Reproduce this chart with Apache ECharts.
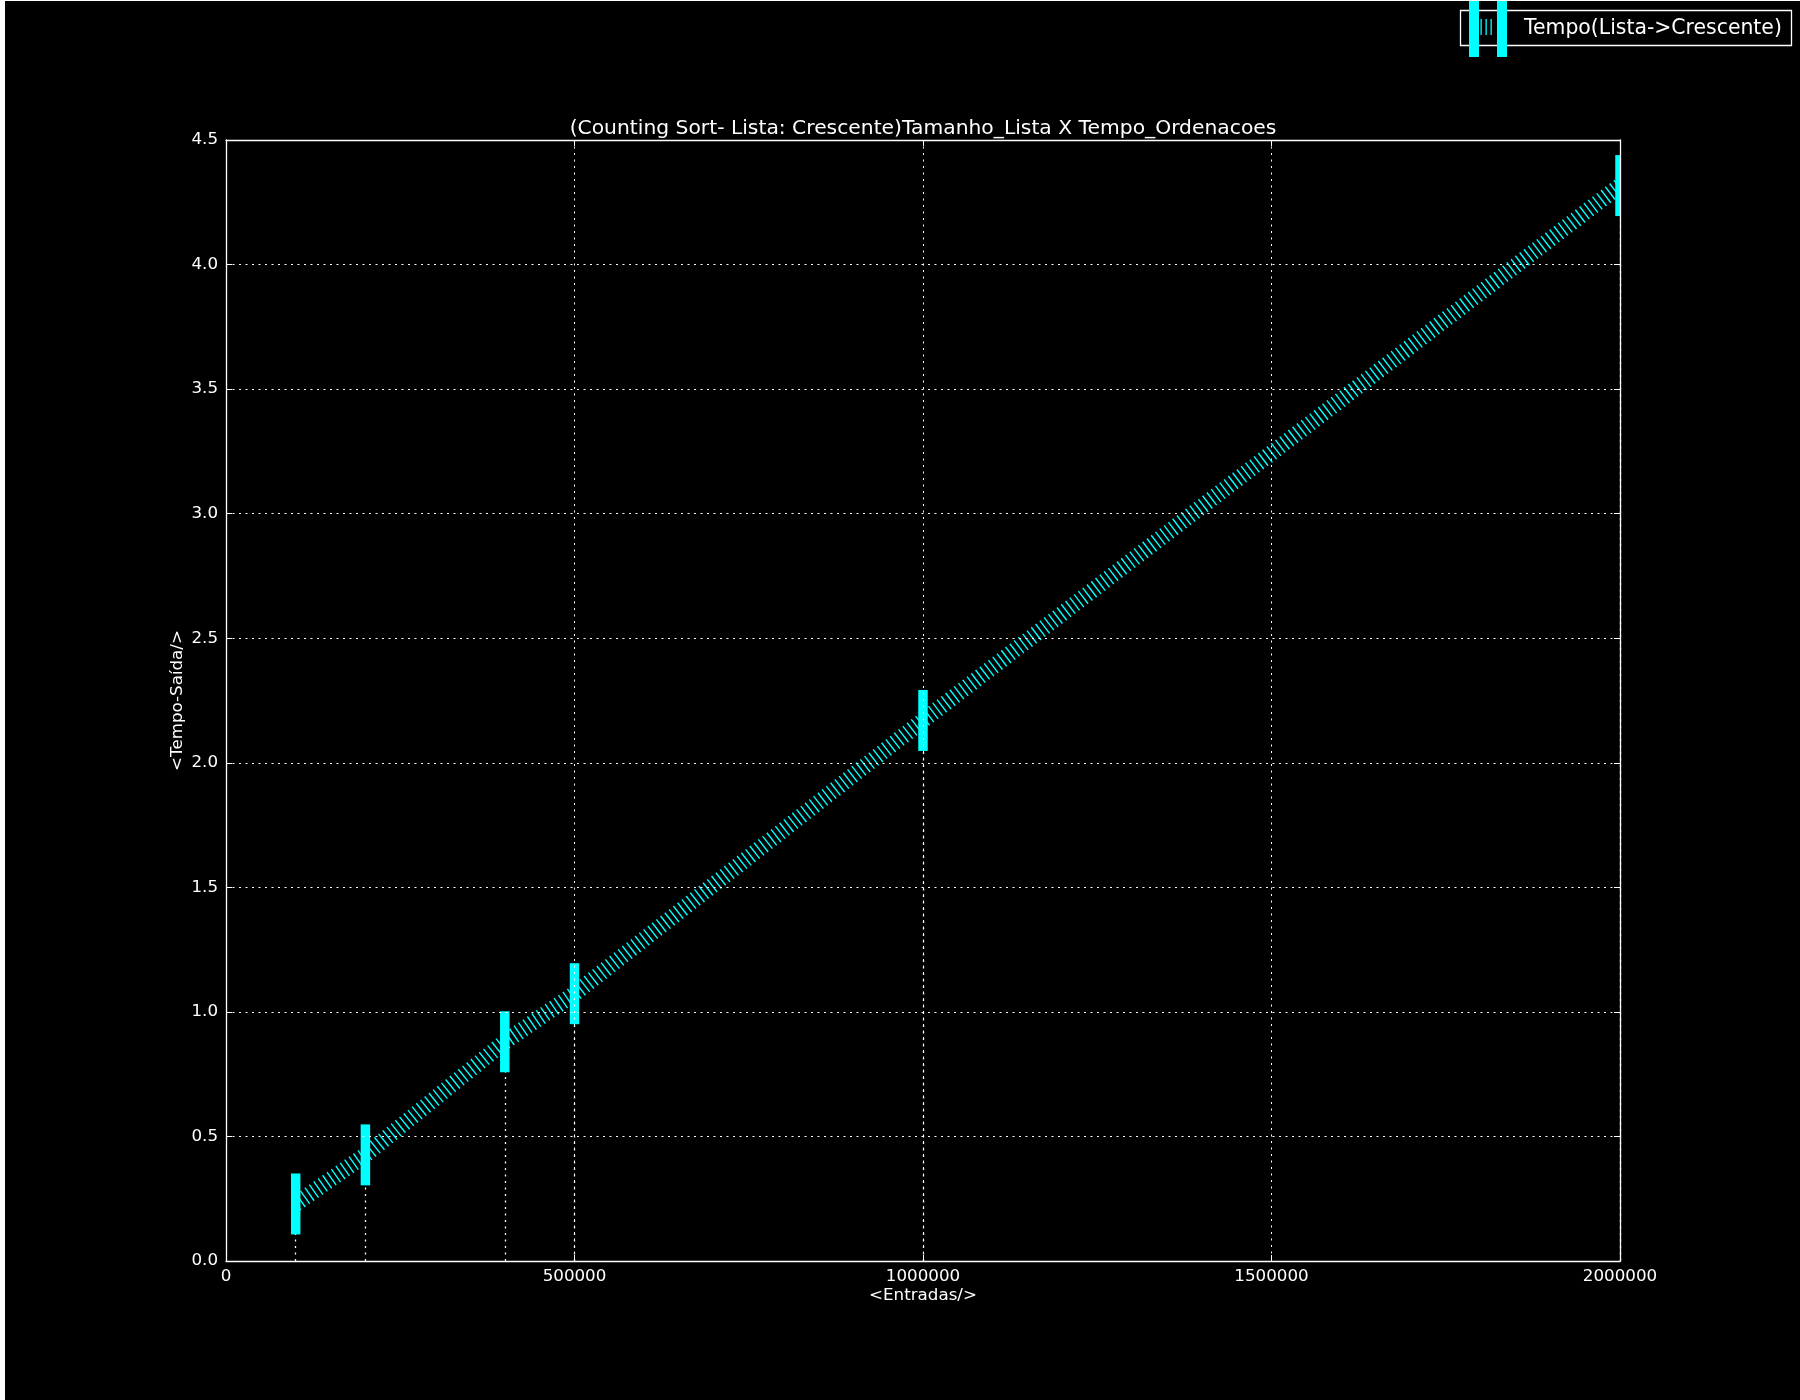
<!DOCTYPE html>
<html>
<head>
<meta charset="utf-8">
<script src="https://cdn.jsdelivr.net/npm/echarts@6/dist/echarts.min.js"></script>
<style>
  html, body { margin: 0; padding: 0; background: #000; }
  #wrap { width: 1800px; height: 1400px; box-sizing: border-box; border-left: 5px solid #fff; border-top: 1px solid #fff; background: #000; }
  #chart { width: 1795px; height: 1399px; }
</style>
</head>
<body>
<div id="wrap"><div id="chart"></div></div>
<script>
// ---- data ----
const seriesName = 'Tempo(Lista->Crescente)';
const sizes = [100000, 200000, 400000, 500000, 1000000, 2000000];
const times = [0.229, 0.426, 0.880, 1.073, 2.170, 4.317];
const xTicks = [0, 500000, 1000000, 1500000, 2000000];
const yTicks = [0.0, 0.5, 1.0, 1.5, 2.0, 2.5, 3.0, 3.5, 4.0, 4.5];
const titleText = '(Counting Sort- Lista: Crescente)Tamanho_Lista X Tempo_Ordenacoes';
const xName = '<Entradas/>';
const yName = '<Tempo-Saída/>';

const FONT = 'DejaVu Sans';
const CYAN = '#00ffff';
const points = sizes.map((x, i) => [x, times[i]]);
const dropLines = sizes.map((x, i) => [{ coord: [x, 0] }, { coord: [x, times[i]] }]);

const legendIcon = 'path://M0 0H10V56H0Z M28 0H38V56H28Z M11.5 18H12.8V34H11.5Z M16.5 18H17.8V34H16.5Z M21.5 18H22.8V34H21.5Z';

const chart = echarts.init(document.getElementById('chart'), null, { renderer: 'canvas' });

const GRID = { left: 221, top: 139, right: 180, bottom: 139 };
const plotRight = 1795 - GRID.right;

const gridLine = { show: true, lineStyle: { color: '#ffffff', width: 1, type: [2, 4.5] } };
const axisCommon = {
  axisLine: { show: true, onZero: false, lineStyle: { color: '#ffffff', width: 1.3 } },
  axisTick: { show: true, inside: true, length: 6, lineStyle: { color: '#ffffff', width: 1 } }
};

chart.setOption({
  backgroundColor: '#000000',
  animation: false,
  textStyle: { fontFamily: FONT },
  title: {
    text: titleText,
    left: 913, top: 113, textAlign: 'center',
    textStyle: { color: '#ffffff', fontSize: 20.3, fontWeight: 'normal', fontFamily: FONT }
  },
  legend: {
    data: [{ name: seriesName, icon: legendIcon }],
    left: 1464, top: 0, padding: 0,
    itemWidth: 38, itemHeight: 56,
    itemStyle: { color: CYAN },
    textStyle: { color: '#ffffff', fontSize: 20.4, fontFamily: FONT, padding: [0, 0, 2, 12] }
  },
  graphic: [{
    type: 'rect', shape: { x: 1455.5, y: 9.5, width: 331, height: 35 },
    style: { fill: 'none', stroke: '#ffffff', lineWidth: 1.3 }, z: -1
  }, {
    // clip the last marker at the plot's right edge, as in the reference
    type: 'rect', shape: { x: plotRight + 0.8, y: GRID.top, width: 14, height: 120 },
    style: { fill: '#000000' }, z: 50
  }],
  grid: Object.assign({ show: false }, GRID),
  xAxis: [{
    type: 'value', min: 0, max: 2000000, interval: 500000, z: 10,
    name: xName, nameLocation: 'middle', nameGap: 26, nameMoveOverlap: false,
    nameTextStyle: { color: '#ffffff', fontSize: 16.7, fontFamily: FONT },
    axisLabel: { color: '#ffffff', fontSize: 16.7, fontFamily: FONT, margin: 7, formatter: v => String(v) },
    splitLine: gridLine, ...axisCommon
  }, {
    type: 'value', position: 'top', min: 0, max: 2000000, interval: 500000, z: 10,
    axisLabel: { show: false }, splitLine: { show: false }, ...axisCommon
  }],
  yAxis: [{
    type: 'value', min: 0, max: 4.5, interval: 0.5, z: 10,
    name: yName, nameLocation: 'middle', nameGap: 40, nameRotate: 90, nameMoveOverlap: false,
    nameTextStyle: { color: '#ffffff', fontSize: 16.7, fontFamily: FONT },
    axisLabel: { color: '#ffffff', fontSize: 16.7, fontFamily: FONT, margin: 8, formatter: v => v.toFixed(1) },
    splitLine: gridLine, ...axisCommon
  }, {
    type: 'value', position: 'right', min: 0, max: 4.5, interval: 0.5, z: 60,
    axisLabel: { show: false }, splitLine: { show: false }, ...axisCommon
  }],
  series: [{
    name: 'drop', type: 'line', data: [], silent: true, z: 1,
    markLine: {
      silent: true, symbol: 'none', label: { show: false }, z: 1,
      lineStyle: { color: '#ffffff', width: 1.3, type: [2, 4.5] },
      data: dropLines, animation: false
    }
  }, {
    name: seriesName, type: 'line', data: points, z: 3,
    symbol: 'rect', symbolSize: [9.5, 61],
    itemStyle: { color: CYAN },
    lineStyle: { color: CYAN, width: 16, type: [1.4, 4], cap: 'butt' }
  }]
});
</script>
</body>
</html>
